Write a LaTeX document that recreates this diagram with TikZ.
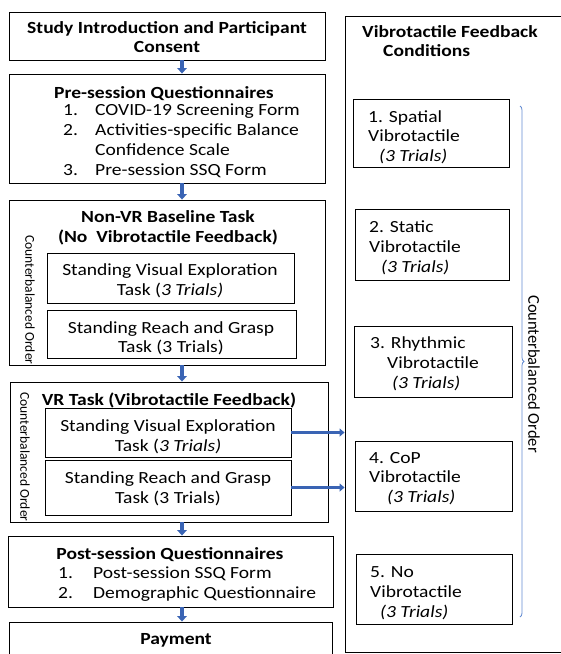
\documentclass[tikz,border=0pt]{standalone}
\usepackage{fontspec}
\setmainfont{Carlito}[FakeStretch=1.15]
\newfontfamily\plainfont{Carlito}
\usetikzlibrary{arrows.meta,decorations.pathreplacing}
\definecolor{arrblue}{RGB}{58,100,180}
\definecolor{bracecol}{RGB}{100,140,210}
\tikzset{
  box/.style={draw=black, line width=0.9pt, fill=white, inner sep=0pt},
  txt/.style={inner sep=0pt, font=\fs},
  btxt/.style={inner sep=0pt, font=\fs\bfseries},
  lt/.style={txt, anchor=mid west, yshift=-3pt},
  varr/.style={draw=arrblue, line width=3.6pt, -{Triangle[width=9.5pt,length=5.5pt]}},
  harr/.style={draw=arrblue, line width=2.8pt, -{Triangle[width=8pt,length=5pt]}},
}
\newcommand{\fs}{\fontsize{17}{19.5}\selectfont}
\newcommand{\fsm}{\plainfont\fontsize{13.5}{15}\selectfont}
\newcommand{\fsr}{\plainfont\fontsize{16.5}{19}\selectfont}
\begin{document}
\begin{tikzpicture}[x=1pt,y=-1pt]
\useasboundingbox (0,0) rectangle (561,654);
\clip (0,0) rectangle (561,654);
% left column boxes
\node[box, minimum width=316pt, minimum height=48pt] (b1) at (167,36) {};
\node[box, minimum width=316pt, minimum height=109pt] (b2) at (167,128.5) {};
\node[box, minimum width=316pt, minimum height=165pt] (b3) at (167,282.5) {};
\node[box, minimum width=247pt, minimum height=50pt] (b3a) at (170.5,278) {};
\node[box, minimum width=249pt, minimum height=48pt] (b3b) at (171.5,334) {};
\node[box, minimum width=318pt, minimum height=140pt] (b4) at (169,452) {};
\node[box, minimum width=246pt, minimum height=49pt] (b4a) at (168,432.5) {};
\node[box, minimum width=246pt, minimum height=55pt] (b4b) at (168,487.5) {};
\node[box, minimum width=325pt, minimum height=71pt] (b5) at (170.5,571.5) {};
\node[box, minimum width=323pt, minimum height=60pt] (b6) at (170.5,652) {};
% right big box
\node[box, minimum width=240pt, minimum height=636pt] (r0) at (465,334) {};
\node[box, minimum width=156pt, minimum height=68pt] (r1) at (431,133) {};
\node[box, minimum width=154pt, minimum height=71pt] (r2) at (432,244.5) {};
\node[box, minimum width=158pt, minimum height=71pt] (r3) at (433,361.5) {};
\node[box, minimum width=157pt, minimum height=70pt] (r4) at (433.5,476) {};
\node[box, minimum width=156pt, minimum height=70pt] (r5) at (434,589) {};
% texts left
\node[btxt, align=center] (t1) at (167,37) {Study Introduction and Participant\\Consent};
\node[btxt] (t2) at (164,94) {Pre-session Questionnaires};
\node[lt] (n21) at (63,110) {1.};
\node[lt] (n22) at (63,130) {2.};
\node[lt] (n23) at (63,170) {3.};
\node[lt] (i21) at (95,110) {COVID-19 Screening Form};
\node[lt] (i22) at (95,130) {Activities-specific Balance};
\node[lt] (i22b) at (95,150) {Confidence Scale};
\node[lt] (i23) at (95,170) {Pre-session SSQ Form};
\node[btxt, align=center] (t3) at (168,228) {Non-VR Baseline Task\\(No\ \ Vibrotactile Feedback)};
\node[txt, align=center] (t3a) at (170,281) {Standing Visual Exploration\\Task (\textit{3 Trials)}};
\node[txt, align=center] (t3b) at (171,338.5) {Standing Reach and Grasp\\Task (3 Trials)};
\node[txt, font=\fsm, rotate=-90] (c3) at (30,300) {Counterbalanced Order};
\node[btxt] (t4) at (169,400) {VR Task (Vibrotactile Feedback)};
\node[txt, align=center] (t4a) at (168,437) {Standing Visual Exploration\\Task (\textit{3 Trials)}};
\node[txt, align=center] (t4b) at (168,489) {Standing Reach and Grasp\\Task (3 Trials)};
\node[txt, font=\fsm, rotate=-90] (c4) at (25,457) {Counterbalanced Order};
\node[btxt] (t5) at (170,555) {Post-session Questionnaires};
\node[lt] (n51) at (58,573) {1.};
\node[lt] (n52) at (58,593) {2.};
\node[lt] (i51) at (93,573) {Post-session SSQ Form};
\node[lt] (i52) at (93,593) {Demographic Questionnaire};
\node[btxt] (t6) at (176,640) {Payment};
% right texts
\node[btxt, anchor=mid west, yshift=-2pt] (rt1) at (362,33) {Vibrotactile Feedback};
\node[btxt, anchor=mid west, yshift=-2pt] (rt2) at (383,52) {Conditions};
\node[lt] (r1a) at (368,117) {1. Spatial};
\node[lt] (r1b) at (368,136) {Vibrotactile};
\node[lt] (r1c) at (379,156) {\textit{(3 Trials)}};
\node[lt] (r2a) at (369,227) {2. Static};
\node[lt] (r2b) at (369,247) {Vibrotactile};
\node[lt] (r2c) at (381,267) {\textit{(3 Trials)}};
\node[lt] (r3a) at (370,343) {3. Rhythmic};
\node[lt] (r3b) at (387,363) {Vibrotactile};
\node[lt] (r3c) at (392,383) {\textit{(3 Trials)}};
\node[lt] (r4a) at (369,458) {4. CoP};
\node[lt] (r4b) at (369,477) {Vibrotactile};
\node[lt] (r4c) at (387,497) {\textit{(3 Trials)}};
\node[lt] (r5a) at (370,572) {5. No};
\node[lt] (r5b) at (370,592) {Vibrotactile};
\node[lt] (r5c) at (380,612) {\textit{(3 Trials)}};
% brace
\coordinate (bt) at (520,106);
\coordinate (bb) at (520,617);
\draw[bracecol, line width=0.8pt, decorate, decoration={brace, amplitude=4pt}] (bt) -- (bb);
\node[txt, font=\fsr, rotate=-90] (cr) at (534,374) {Counterbalanced Order};
% arrows
\draw[varr] (b1.south -| 182,0) -- (b2.north -| 182,0);
\draw[varr] (b2.south -| 182,0) -- (b3.north -| 182,0);
\draw[varr] (b3.south -| 182,0) -- (b4.north -| 182,0);
\draw[varr] (b4.south -| 182,0) -- (b5.north -| 182,0);
\draw[varr] (b5.south -| 182,0) -- (b6.north -| 182,0);
\draw[harr] (b4a.east) -- (b4a.east -| r0.west);
\draw[harr] (b4b.east) -- (b4b.east -| r0.west);
\end{tikzpicture}
\end{document}
